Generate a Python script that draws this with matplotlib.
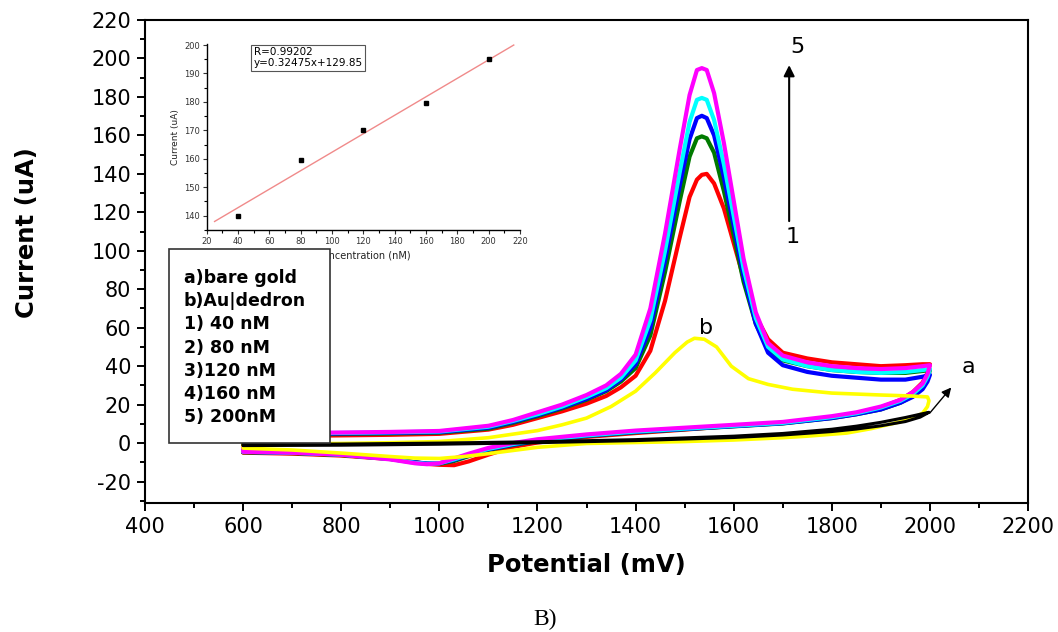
import matplotlib.pyplot as plt
from matplotlib.patches import Rectangle
from matplotlib.ticker import MultipleLocator

plt.rcParams['axes.unicode_minus'] = False

# Potential grid of the anodic (forward) and return scans, mV
E_fwd = [600, 700, 800, 900, 1000, 1100, 1150, 1200, 1250, 1300, 1340, 1370,
         1400, 1430, 1460, 1490, 1510, 1525, 1535, 1545, 1560, 1580, 1600,
         1620, 1645, 1670, 1700, 1750, 1800, 1850, 1900, 1950, 1985, 2000]
E_rev = [2000, 1995, 1985, 1965, 1940, 1900, 1850, 1800, 1700, 1600, 1500,
         1400, 1300, 1200, 1150, 1100, 1060, 1030, 1000, 975, 950, 900, 800,
         700, 600]

# Current (uA) for each dedron concentration: forward scan, then return scan
i40_fwd = [3.5, 3.7, 4.0, 4.3, 4.8, 7.0, 9.5, 13.0, 16.5, 20.5, 24.5, 29.0,
           35.0, 48.0, 74.0, 107.0, 128.0, 137.0, 139.5, 140.0, 135.0, 122.0,
           104.0, 86.0, 66.0, 54.0, 47.0, 44.0, 42.0, 41.0, 40.0, 40.5, 41.0, 41.0]
i40_rev = [41.0, 36.5, 31.5, 26.5, 22.5, 18.5, 15.5, 13.5, 10.5, 9.0, 7.0,
           5.2, 3.2, 0.3, -2.0, -6.0, -9.5, -11.5, -11.3, -10.8, -10.0, -8.3,
           -6.5, -5.5, -5.0]
i80_fwd = [4.2, 4.4, 4.7, 5.0, 5.4, 7.5, 10.5, 14.0, 18.0, 22.5, 27.0, 32.0,
           39.0, 56.0, 89.0, 126.0, 149.0, 158.5, 159.5, 158.5, 151.0, 131.0,
           108.0, 84.0, 62.0, 49.0, 43.0, 40.0, 38.0, 37.0, 36.5, 36.5, 37.5, 38.0]
i80_rev = [38.0, 33.5, 29.0, 24.5, 21.0, 17.5, 15.0, 13.0, 10.2, 8.7, 7.2,
           5.6, 3.6, 1.0, -1.0, -3.6, -6.8, -9.3, -10.8, -10.8, -10.0, -8.2,
           -6.2, -5.2, -4.8]
i120_fwd = [4.5, 4.7, 5.0, 5.3, 5.7, 8.0, 11.0, 14.5, 18.5, 23.0, 27.5, 33.0,
            41.0, 60.0, 95.0, 134.0, 158.0, 169.0, 170.2, 169.0, 160.0, 138.0,
            113.0, 87.0, 62.0, 47.0, 40.5, 37.0, 35.0, 34.0, 33.0, 33.0, 34.5, 35.5]
i120_rev = [35.5, 32.0, 28.0, 24.0, 21.0, 17.5, 15.0, 13.0, 10.3, 8.8, 7.3,
            5.8, 3.8, 1.2, -0.8, -3.3, -6.3, -8.8, -10.5, -10.6, -10.0, -8.2,
            -6.0, -5.0, -4.6]
i160_fwd = [4.8, 5.0, 5.3, 5.6, 6.0, 8.5, 11.5, 15.0, 19.0, 24.0, 28.5, 34.0,
            43.0, 64.0, 100.0, 141.0, 167.0, 178.5, 179.5, 178.5, 168.0, 145.0,
            118.0, 91.0, 65.0, 50.0, 43.5, 40.0, 38.0, 37.0, 36.5, 37.0, 38.0, 38.5]
i160_rev = [38.5, 34.5, 30.0, 25.5, 22.0, 18.5, 15.5, 13.5, 10.5, 9.0, 7.5,
            6.0, 4.0, 1.5, -0.5, -3.0, -6.0, -8.5, -10.5, -10.8, -10.3, -8.3,
            -6.0, -5.0, -4.5]
i200_fwd = [5.0, 5.2, 5.5, 5.8, 6.3, 9.0, 12.0, 16.0, 20.0, 25.0, 30.0, 36.0,
            46.0, 70.0, 109.0, 153.0, 181.0, 194.0, 195.0, 194.0, 182.0, 156.0,
            126.0, 96.0, 68.0, 52.0, 45.5, 42.0, 40.0, 39.0, 38.5, 39.0, 40.0, 40.5]
i200_rev = [40.5, 36.0, 31.0, 26.5, 22.5, 19.0, 16.0, 14.0, 11.0, 9.5, 8.0,
            6.5, 4.5, 2.0, 0.0, -2.5, -5.5, -8.0, -10.5, -11.0, -10.5, -8.5,
            -6.0, -5.0, -4.5]

# Au|dedron electrode without target (b)
Eb_fwd = [600, 700, 800, 900, 1000, 1100, 1200, 1250, 1300, 1350, 1400, 1440,
          1480, 1505, 1520, 1540, 1565, 1595, 1630, 1670, 1720, 1800, 1900,
          1960, 1995]
ib_fwd = [-0.5, -0.4, -0.2, 0.2, 0.8, 2.8, 6.5, 9.5, 13.0, 19.0, 27.0, 36.5,
          47.0, 52.5, 54.5, 54.0, 50.0, 40.0, 33.5, 30.5, 28.0, 26.0, 25.0,
          24.5, 24.0]
Eb_rev = [1998, 1995, 1985, 1960, 1930, 1880, 1830, 1750, 1700, 1600, 1500,
          1400, 1300, 1200, 1100, 1050, 1000, 950, 900, 800, 700, 600]
ib_rev = [22.0, 19.0, 15.5, 12.5, 10.5, 7.5, 5.2, 3.6, 2.8, 1.6, 0.8, 0.3,
          -0.2, -2.2, -5.5, -7.0, -8.0, -7.8, -7.0, -5.2, -3.6, -2.6]

# bare gold electrode (a)
Ea_fwd = [600, 800, 1000, 1200, 1400, 1600, 1700, 1800, 1850, 1900, 1950, 1980, 1998]
ia_fwd = [-0.8, -0.5, 0.0, 0.7, 1.8, 3.6, 5.0, 7.2, 8.8, 10.8, 13.3, 15.0, 16.0]
Ea_rev = [1998, 1980, 1950, 1900, 1850, 1800, 1700, 1600, 1400, 1200, 1000, 800, 600]
ia_rev = [16.0, 13.5, 11.2, 9.0, 7.3, 6.0, 4.2, 2.9, 1.3, 0.2, -0.6, -1.1, -1.3]

conc = [40, 80, 120, 160, 200]
conc_curves = [(i40_fwd, i40_rev), (i80_fwd, i80_rev), (i120_fwd, i120_rev),
               (i160_fwd, i160_rev), (i200_fwd, i200_rev)]
conc_colors = ['#ff0000', '#007a00', '#0000ff', '#00ffff', '#ff00ff']

# linear calibration
fit_slope, fit_icpt, fit_r = 0.32475, 129.85, 0.99202
fit_range = [25, 216]

legend_lines = ['a)bare gold', 'b)Au|dedron', '1) 40 nM', '2) 80 nM',
                '3)120 nM', '4)160 nM', '5) 200nM']

fig = plt.figure(figsize=(10.58, 6.32), dpi=100)
ax = fig.add_axes([0.1371, 0.2046, 0.8346, 0.7637])

for (fwd, rev), col in zip(conc_curves, conc_colors):
    ax.plot(E_fwd + E_rev + E_fwd[:1], fwd + rev + fwd[:1], color=col, lw=3,
            solid_joinstyle='round', solid_capstyle='round')
ax.plot(Eb_fwd + Eb_rev + Eb_fwd[:1], ib_fwd + ib_rev + ib_fwd[:1],
        color='#ffff00', lw=2.6, solid_joinstyle='round')
ax.plot(Ea_fwd + Ea_rev + Ea_fwd[:1], ia_fwd + ia_rev + ia_fwd[:1],
        color='black', lw=2.2, solid_joinstyle='round')

ax.set_xlim(400, 2200)
ax.set_ylim(-31, 220)
ax.xaxis.set_major_locator(MultipleLocator(200))
ax.xaxis.set_minor_locator(MultipleLocator(100))
ax.yaxis.set_major_locator(MultipleLocator(20))
ax.yaxis.set_minor_locator(MultipleLocator(10))
ax.tick_params(which='major', direction='out', length=6, width=1.4, labelsize=15, pad=4)
ax.tick_params(which='minor', direction='out', length=3.5, width=1.4)
for s in ax.spines.values():
    s.set_linewidth(1.5)
ax.set_xlabel('Potential (mV)', fontsize=17.5, fontweight='bold')
ax.set_ylabel('Current (uA)', fontsize=17.5, fontweight='bold')
ax.xaxis.set_label_coords(0.5, -0.105)
ax.yaxis.set_label_coords(-0.12, 0.56)

# annotations on the voltammograms
ax.annotate('', xy=(2047, 30), xytext=(1996, 14.5),
            arrowprops=dict(arrowstyle='-|>', color='black', lw=1, mutation_scale=14))
ax.text(2078, 39.5, 'a', fontsize=16, ha='center', va='center')
ax.text(1543, 60, 'b', fontsize=16, ha='center', va='center')
ax.annotate('', xy=(1713, 198), xytext=(1713, 114),
            arrowprops=dict(arrowstyle='-|>', color='black', lw=1.5, mutation_scale=16))
ax.text(1729, 206, '5', fontsize=16, ha='center', va='center')
ax.text(1721, 107, '1', fontsize=16, ha='center', va='center')

# calibration inset: peak current against concentration
peaks = [max(fwd) for fwd, rev in conc_curves]
ax_in = fig.add_axes([0.1954, 0.6362, 0.2961, 0.2948])
ax_in.plot(fit_range, [fit_slope * x + fit_icpt for x in fit_range],
           color='#f08a8a', lw=1)
ax_in.plot(conc, peaks, 's', color='black', ms=3.5)
ax_in.set_xlim(20, 220)
ax_in.set_ylim(135, 200.5)
ax_in.xaxis.set_major_locator(MultipleLocator(20))
ax_in.xaxis.set_minor_locator(MultipleLocator(10))
ax_in.yaxis.set_major_locator(MultipleLocator(10))
ax_in.yaxis.set_minor_locator(MultipleLocator(5))
ax_in.spines['top'].set_visible(False)
ax_in.spines['right'].set_visible(False)
for s in ax_in.spines.values():
    s.set_linewidth(1)
ax_in.tick_params(which='major', direction='out', length=3, width=0.8,
                  labelsize=6, colors='#333333', pad=2)
ax_in.tick_params(which='minor', direction='out', length=2, width=0.8)
ax_in.set_xlabel('Concentration (nM)', fontsize=7, labelpad=3, color='#222222')
ax_in.set_ylabel('Current (uA)', fontsize=6.5, labelpad=3, color='#222222')
ax_in.text(50, 199.2, 'R=%.5f\ny=%.5fx+%.2f' % (fit_r, fit_slope, fit_icpt),
           fontsize=7.5, va='top', ha='left', linespacing=1.1,
           bbox=dict(boxstyle='square,pad=0.25', fc='white', ec='#555555', lw=0.8))

# legend box drawn on top of the inset
fig.add_artist(Rectangle((0.1597, 0.299), 0.1522, 0.307, transform=fig.transFigure,
                         fc='white', ec='#333333', lw=1.2, zorder=5))
for k, line in enumerate(legend_lines):
    fig.text(0.1739, 0.560 - k * 0.0367, line, fontsize=12.5, fontweight='bold',
             va='center', ha='left', zorder=6)

fig.text(0.515, 0.02, 'B)', fontsize=17, family='Liberation Serif',
         ha='center', va='center')

fig.savefig('out.png', dpi=100)
